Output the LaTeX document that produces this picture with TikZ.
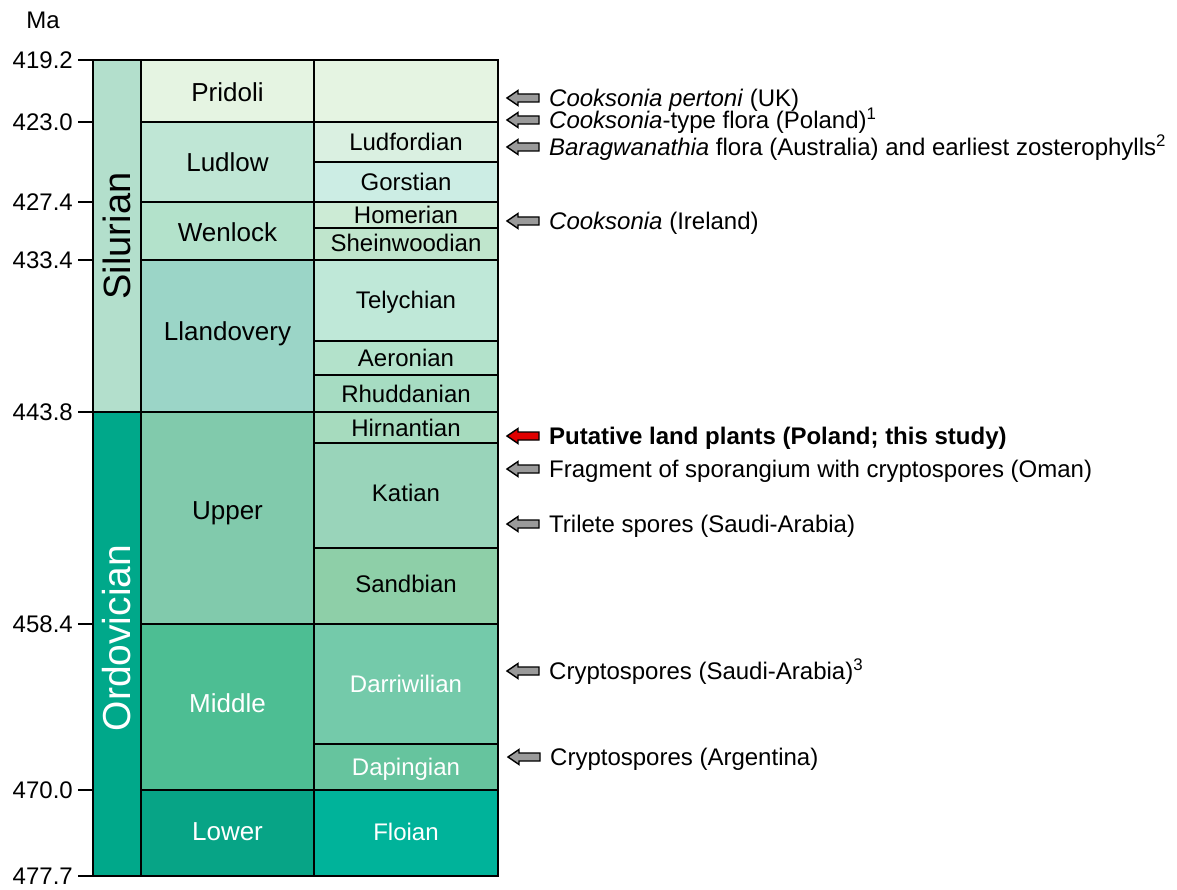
\documentclass[tikz,border=0pt]{standalone}
\usepackage{fontspec}
\setmainfont{Liberation Sans}
\definecolor{silur}{HTML}{B3DFCC}
\definecolor{ordov}{HTML}{00A88A}
\definecolor{pridoli}{HTML}{E5F4E2}
\definecolor{ludlow}{HTML}{BFE6D5}
\definecolor{ludford}{HTML}{DAF0E1}
\definecolor{gorst}{HTML}{CCEDE4}
\definecolor{wenlock}{HTML}{B3E2CB}
\definecolor{homer}{HTML}{CCEBD5}
\definecolor{shein}{HTML}{BFE5CC}
\definecolor{llando}{HTML}{9BD5C7}
\definecolor{telych}{HTML}{BFE8D8}
\definecolor{aeron}{HTML}{B3E2CB}
\definecolor{rhudd}{HTML}{A6DCC2}
\definecolor{upper}{HTML}{81CAAC}
\definecolor{hirn}{HTML}{A6DBBE}
\definecolor{katian}{HTML}{99D4BA}
\definecolor{sandb}{HTML}{8ECFA8}
\definecolor{middle}{HTML}{4DBE93}
\definecolor{darri}{HTML}{74CAAA}
\definecolor{daping}{HTML}{66C49E}
\definecolor{lower}{HTML}{07A486}
\definecolor{floian}{HTML}{00B39A}
\definecolor{arrgray}{HTML}{9A9A9A}
\definecolor{arrred}{HTML}{E00000}
\tikzset{
  cell/.style={draw=black, line width=1.7pt},
  tick/.style={draw=black, line width=1.7pt},
  agelab/.style={font=\fontsize{24}{28}\selectfont, text height=17.2pt, text depth=0pt, inner sep=0pt},
  eplab/.style={font=\fontsize{26}{30}\selectfont, text height=18.6pt, text depth=0pt, inner sep=0pt},
  perlab/.style={font=\fontsize{38}{44}\selectfont, text height=27.2pt, text depth=0pt, inner sep=0pt, rotate=90},
  ticklab/.style={font=\fontsize{24}{28}\selectfont, text height=17.2pt, text depth=0pt, inner sep=0pt, anchor=east},
  rlab/.style={font=\fontsize{24}{28}\selectfont, text height=17.2pt, text depth=0pt, inner sep=0pt, anchor=west},
  blockarrow/.style={draw=black, line width=1.4pt, line join=miter},
}
\newcommand\blockarr[2]{%
  \filldraw[blockarrow, fill=#2] (#1.west) ++(-42,0) -- ++(11,-7.5) -- ++(0,3.5) -- ++(21,0) -- ++(0,8) -- ++(-21,0) -- ++(0,3.5) -- cycle;}
\begin{document}
\begin{tikzpicture}[x=1pt,y=-1pt]
\useasboundingbox (0,0) rectangle (1177,890);
% period column
\filldraw[cell, fill=silur] (93,60) rectangle (141,412);
\filldraw[cell, fill=ordov] (93,412) rectangle (141,876);
% epoch column
\filldraw[cell, fill=pridoli] (141,60) rectangle (314,122);
\filldraw[cell, fill=ludlow] (141,122) rectangle (314,202);
\filldraw[cell, fill=wenlock] (141,202) rectangle (314,260);
\filldraw[cell, fill=llando] (141,260) rectangle (314,412);
\filldraw[cell, fill=upper] (141,412) rectangle (314,624);
\filldraw[cell, fill=middle] (141,624) rectangle (314,790);
\filldraw[cell, fill=lower] (141,790) rectangle (314,876);
% age column
\filldraw[cell, fill=pridoli] (314,60) rectangle (498,122);
\filldraw[cell, fill=ludford] (314,122) rectangle (498,162);
\filldraw[cell, fill=gorst] (314,162) rectangle (498,202);
\filldraw[cell, fill=homer] (314,202) rectangle (498,228);
\filldraw[cell, fill=shein] (314,228) rectangle (498,260);
\filldraw[cell, fill=telych] (314,260) rectangle (498,341);
\filldraw[cell, fill=aeron] (314,341) rectangle (498,375);
\filldraw[cell, fill=rhudd] (314,375) rectangle (498,412);
\filldraw[cell, fill=hirn] (314,412) rectangle (498,443);
\filldraw[cell, fill=katian] (314,443) rectangle (498,548);
\filldraw[cell, fill=sandb] (314,548) rectangle (498,624);
\filldraw[cell, fill=darri] (314,624) rectangle (498,744);
\filldraw[cell, fill=daping] (314,744) rectangle (498,790);
\filldraw[cell, fill=floian] (314,790) rectangle (498,876);
% ticks
\foreach \yy in {60,122,202,260,412,624,790,876} \draw[tick] (78,\yy) -- (93,\yy);
% tick labels
\node[font=\fontsize{24}{28}\selectfont, inner sep=0pt] (ma) at (43,20) {Ma};
\node[ticklab] (t1) at (73,60) {419.2};
\node[ticklab] (t2) at (73,122) {423.0};
\node[ticklab] (t3) at (73,202) {427.4};
\node[ticklab] (t4) at (73,260) {433.4};
\node[ticklab] (t5) at (73,412) {443.8};
\node[ticklab] (t6) at (73,624) {458.4};
\node[ticklab] (t7) at (73,790) {470.0};
\node[ticklab] (t8) at (73,876) {477.7};
% period labels
\node[perlab] (silurian) at (117,236) {Silurian};
\node[perlab, text=white, font=\fontsize{39}{45}\selectfont] (ordovician) at (117,638) {Ordovician};
% epoch labels
\node[eplab] (e1) at (227.5,92) {Pridoli};
\node[eplab] (e2) at (227.5,162) {Ludlow};
\node[eplab] (e3) at (227.5,232) {Wenlock};
\node[eplab] (e4) at (227.5,331) {Llandovery};
\node[eplab] (e5) at (227.5,510) {Upper};
\node[eplab, text=white] (e6) at (227.5,703) {Middle};
\node[eplab, text=white] (e7) at (227.5,831) {Lower};
% age labels
\node[agelab] (a1) at (406,142) {Ludfordian};
\node[agelab] (a2) at (406,182) {Gorstian};
\node[agelab] (a3) at (406,215) {Homerian};
\node[agelab] (a4) at (406,243) {Sheinwoodian};
\node[agelab] (a5) at (406,300) {Telychian};
\node[agelab] (a6) at (406,358) {Aeronian};
\node[agelab] (a7) at (406,394) {Rhuddanian};
\node[agelab] (a8) at (406,428) {Hirnantian};
\node[agelab] (a9) at (406,493) {Katian};
\node[agelab] (a10) at (406,584) {Sandbian};
\node[agelab, text=white] (a11) at (406,684) {Darriwilian};
\node[agelab, text=white] (a12) at (406,767) {Dapingian};
\node[agelab, text=white] (a13) at (406,832) {Floian};
% right labels
\node[rlab] (r1) at (549,98) {\textit{Cooksonia pertoni} (UK)};
\node[rlab] (r2) at (549,120) {\textit{Cooksonia}-type flora (Poland)\textsuperscript{1}};
\node[rlab] (r3) at (549,147) {\textit{Baragwanathia} flora (Australia) and earliest zosterophylls\textsuperscript{2}};
\node[rlab] (r4) at (549,221) {\textit{Cooksonia} (Ireland)};
\node[rlab, font=\fontsize{24}{28}\selectfont\bfseries] (r5) at (549,436) {Putative land plants (Poland; this study)};
\node[rlab] (r6) at (549,469) {Fragment of sporangium with cryptospores (Oman)};
\node[rlab] (r7) at (549,524) {Trilete spores (Saudi-Arabia)};
\node[rlab] (r8) at (549,671) {Cryptospores (Saudi-Arabia)\textsuperscript{3}};
\node[rlab] (r9) at (550,757) {Cryptospores (Argentina)};
% arrows
\blockarr{r1}{arrgray}
\blockarr{r2}{arrgray}
\blockarr{r3}{arrgray}
\blockarr{r4}{arrgray}
\blockarr{r5}{arrred}
\blockarr{r6}{arrgray}
\blockarr{r7}{arrgray}
\blockarr{r8}{arrgray}
\blockarr{r9}{arrgray}
\end{tikzpicture}
\end{document}
